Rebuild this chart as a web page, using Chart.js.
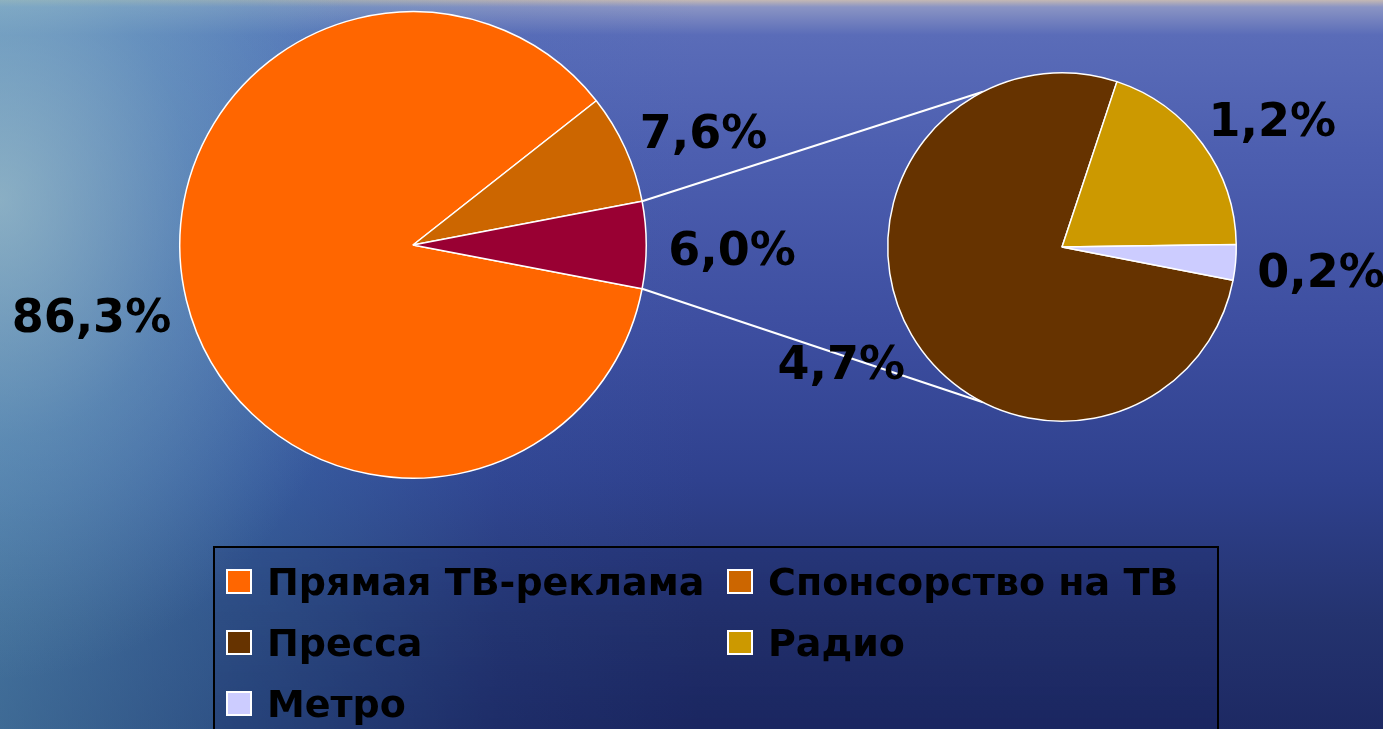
<!DOCTYPE html>
<html><head><meta charset="utf-8">
<script src="https://cdn.jsdelivr.net/npm/chart.js@4.4.1/dist/chart.umd.min.js"></script>
<style>
html,body{margin:0;padding:0;width:1383px;height:729px;overflow:hidden;}
body{position:relative;
 background:
  radial-gradient(ellipse 380px 480px at 0px 200px, rgba(175,205,205,0.6) 0%, rgba(140,185,200,0.3) 50%, rgba(120,170,200,0) 100%),
  linear-gradient(to right, rgba(90,160,190,0.55) 0px, rgba(70,140,185,0.38) 250px, rgba(60,110,180,0.12) 500px, rgba(60,100,180,0) 700px),
  linear-gradient(to bottom, #c4b8b4 0px, #8a94c4 7px, #5a6cb8 35px, #4d5fb0 150px, #3d4ea0 330px, #2f418e 480px, #24336f 620px, #1d2963 729px);
}
canvas{position:absolute;left:0;top:0;}
#legend{position:absolute;left:213px;top:546px;width:1006px;height:200px;border:2px solid #000;box-sizing:border-box;
 background:linear-gradient(to bottom, rgba(20,30,90,0.15), rgba(20,30,90,0.25));
 display:grid;grid-template-columns:501px auto;grid-auto-rows:61px;padding:3px 0 0 11px;}
.item{display:flex;align-items:center;font:bold 38px "DejaVu Sans";color:#000;white-space:nowrap;}
.sw{width:22px;height:21px;border:2px solid #fff;margin-right:15px;flex:none;}
</style></head>
<body>
<canvas id="c1" width="1383" height="729"></canvas>
<canvas id="c2" width="1383" height="729"></canvas>
<div id="legend"></div>
<script>
const mainLabels = ['Прямая ТВ-реклама', 'Спонсорство на ТВ', 'Прочее'];
const mainValues = [86.3, 7.6, 6.0];
const mainColors = ['#FF6600', '#CC6600', '#990033'];

const subLabels = ['Пресса', 'Радио', 'Метро'];
const subValues = [4.7, 1.2, 0.2];
const subColors = ['#663300', '#CC9900', '#CCCCFF'];

const legendLabels = ['Прямая ТВ-реклама', 'Спонсорство на ТВ', 'Пресса', 'Радио', 'Метро'];
const legendColors = ['#FF6600', '#CC6600', '#663300', '#CC9900', '#CCCCFF'];

const fmt = v => v.toFixed(1).replace('.', ',') + '%';

const pctLabels = {
  id: 'pctLabels',
  afterDatasetsDraw(chart) {
    const ctx = chart.ctx;
    const meta = chart.getDatasetMeta(0);
    const vals = chart.data.datasets[0].data;
    ctx.save();
    ctx.font = 'bold 46px "DejaVu Sans"';
    ctx.fillStyle = '#000';
    ctx.textAlign = 'center';
    ctx.textBaseline = 'middle';
    meta.data.forEach((arc, i) => {
      const p = arc.getProps(['x', 'y', 'startAngle', 'endAngle', 'outerRadius'], true);
      const mid = (p.startAngle + p.endAngle) / 2;
      const t = fmt(vals[i]);
      const w = ctx.measureText(t).width, h = 56;
      const d = p.outerRadius + 20;
      const ax = p.x + d * Math.cos(mid), ay = p.y + d * Math.sin(mid);
      ctx.fillText(t, ax + w / 2 * Math.cos(mid) + 2, ay + h / 2 * Math.sin(mid) + 8);
    });
    ctx.restore();
  }
};

let mainChart;
const connectors = {
  id: 'connectors',
  beforeDatasetsDraw(chart) {
    if (!mainChart) return;
    const m = mainChart.getDatasetMeta(0).data[2].getProps(['x', 'y', 'startAngle', 'endAngle', 'outerRadius'], true);
    const s = chart.getDatasetMeta(0).data[0].getProps(['x', 'y', 'outerRadius'], true);
    const ctx = chart.ctx;
    const a = 63 * Math.PI / 180;
    ctx.save();
    ctx.strokeStyle = '#fff';
    ctx.lineWidth = 2;
    ctx.beginPath();
    ctx.moveTo(m.x + m.outerRadius * Math.cos(m.startAngle), m.y + m.outerRadius * Math.sin(m.startAngle));
    ctx.lineTo(s.x + s.outerRadius * Math.cos(Math.PI + a), s.y + s.outerRadius * Math.sin(Math.PI + a));
    ctx.moveTo(m.x + m.outerRadius * Math.cos(m.endAngle), m.y + m.outerRadius * Math.sin(m.endAngle));
    ctx.lineTo(s.x + s.outerRadius * Math.cos(Math.PI - a), s.y + s.outerRadius * Math.sin(Math.PI - a));
    ctx.stroke();
    ctx.restore();
  }
};

const mainTotal = mainValues.reduce((a, b) => a + b, 0);
const before = mainValues[0] + mainValues[1];
const otherSpan = mainValues[2] / mainTotal * 360;
const mainRotation = 360 - before / mainTotal * 360 - otherSpan / 2 + 90;
const subRotation = 101;

const common = {
  responsive: false,
  devicePixelRatio: 1,
  animation: false,
  events: [],
  plugins: { legend: { display: false }, tooltip: { enabled: false } }
};

mainChart = new Chart(document.getElementById('c1'), {
  type: 'pie',
  data: { labels: mainLabels, datasets: [{ data: mainValues, backgroundColor: mainColors, borderColor: '#fff', borderWidth: 1.5 }] },
  options: Object.assign({}, common, {
    rotation: mainRotation,
    layout: { padding: { left: 179, top: 11, right: 736, bottom: 250 } }
  }),
  plugins: [pctLabels]
});

new Chart(document.getElementById('c2'), {
  type: 'pie',
  data: { labels: subLabels, datasets: [{ data: subValues, backgroundColor: subColors, borderColor: '#fff', borderWidth: 1.5 }] },
  options: Object.assign({}, common, {
    rotation: subRotation,
    layout: { padding: { left: 887, top: 72, right: 146, bottom: 307 } }
  }),
  plugins: [connectors, pctLabels]
});

const lg = document.getElementById('legend');
legendLabels.forEach((l, i) => {
  const d = document.createElement('div');
  d.className = 'item';
  const sw = document.createElement('span');
  sw.className = 'sw';
  sw.style.background = legendColors[i];
  const tx = document.createElement('span');
  tx.textContent = l;
  d.appendChild(sw); d.appendChild(tx);
  lg.appendChild(d);
});
</script>
</body></html>
